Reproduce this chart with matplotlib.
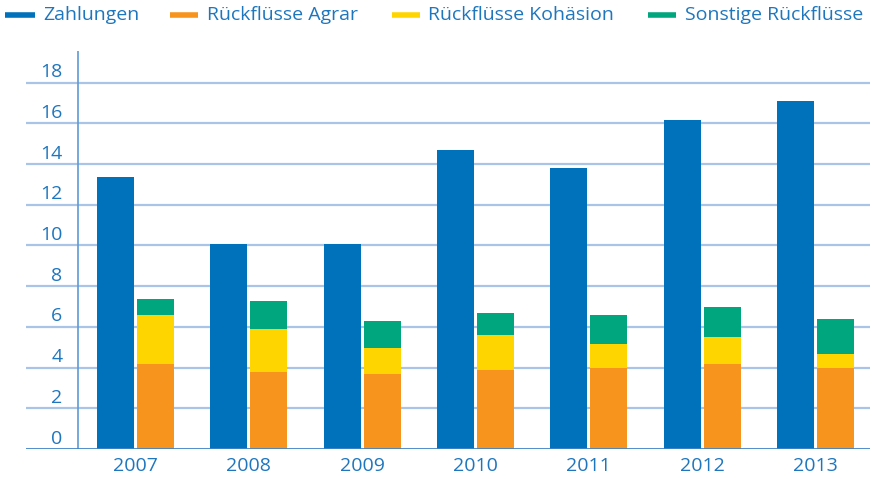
import matplotlib
matplotlib.use("Agg")
import matplotlib.pyplot as plt
from matplotlib.lines import Line2D
from matplotlib import transforms
import numpy as np

plt.rcParams['font.family'] = ['Open Sans', 'DejaVu Sans']

years = ["2007", "2008", "2009", "2010", "2011", "2012", "2013"]
zahlungen = [13.38, 10.07, 10.07, 14.69, 13.81, 16.17, 17.10]
agrar = [4.18, 3.78, 3.69, 3.88, 3.98, 4.18, 3.98]
kohaesion = [2.40, 2.12, 1.27, 1.72, 1.18, 1.32, 0.69]
sonstige = [0.79, 1.37, 1.33, 1.08, 1.42, 1.48, 1.72]
yticks = [0, 2, 4, 6, 8, 10, 12, 14, 16, 18]
labels = ["Zahlungen", "Rückflüsse Agrar", "Rückflüsse Kohäsion", "Sonstige Rückflüsse"]

c_blue = "#0071BB"
c_orange = "#F7941E"
c_yellow = "#FFD500"
c_green = "#00A77E"
c_text = "#1E76BE"
c_grid = "#A9C4E6"

W, H = 872, 479
fig = plt.figure(figsize=(W / 100, H / 100), dpi=100)
ax = fig.add_axes([26 / W, (H - 449) / H, (870 - 26) / W, (449 - 50.7) / H])

x = np.arange(len(years))
bw = 0.327
off = 0.176
ax.bar(x - off, zahlungen, bw, color=c_blue, zorder=3)
a = np.array(agrar)
k = np.array(kohaesion)
s = np.array(sonstige)
ax.bar(x + off, a, bw, color=c_orange, zorder=3)
ax.bar(x + off, k, bw, bottom=a, color=c_yellow, zorder=3)
ax.bar(x + off, s, bw, bottom=a + k, color=c_green, zorder=3)

ax.set_xlim(-0.967, 6.482)
ax.set_ylim(0, 19.57)

for sp in ax.spines.values():
    sp.set_visible(False)
ax.axhline(0, color="#3F83C6", lw=2.0, zorder=4)
for t in yticks[1:]:
    ax.axhline(t, color=c_grid, lw=1.6, zorder=1)
ax.axvline(-0.508, color="#5D9AD6", lw=1.2, zorder=2)

ax.set_yticks([])
ax.set_xticks(x)
ax.set_xticklabels(years, fontsize=14, color=c_text)
ax.tick_params(axis='x', length=0, pad=6)

trans = transforms.blended_transform_factory(fig.transFigure, ax.transData)
offset = transforms.ScaledTranslation(0, 10.5 / 100, fig.dpi_scale_trans)
for t in yticks:
    ax.text(62.5 / W, t, str(t), transform=trans + offset, ha='right', va='center',
            fontsize=14, color=c_text)

# legend
colors = [c_blue, c_orange, c_yellow, c_green]
hx = [(5, 35), (170, 198), (392, 420), (648, 676)]
tx = [43, 207, 428, 685]
ly = (H - 15) / H
for lab, col, (h0, h1), t0 in zip(labels, colors, hx, tx):
    fig.add_artist(Line2D([h0 / W, h1 / W], [ly, ly], color=col, lw=4, solid_capstyle='butt'))
    fig.text(t0 / W, ly, lab, fontsize=14, color=c_text, ha='left', va='center')

fig.savefig("out.png", dpi=100)
